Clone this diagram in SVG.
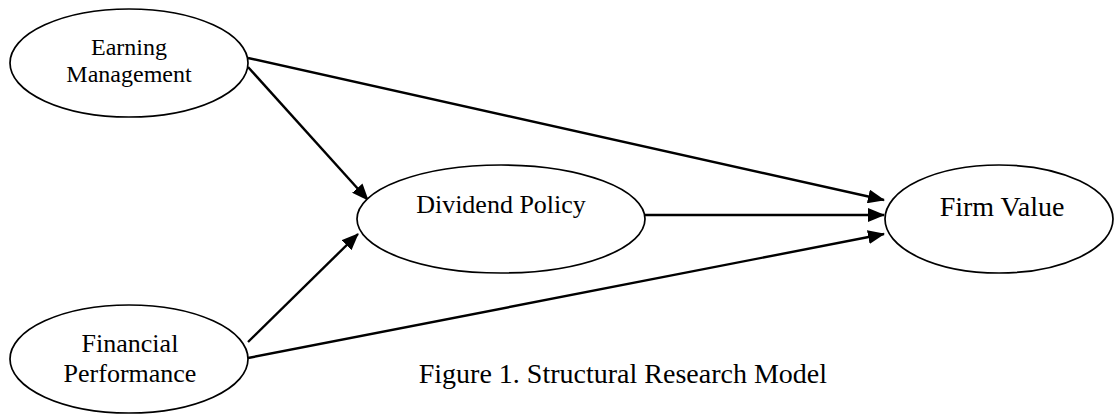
<svg xmlns="http://www.w3.org/2000/svg" width="1114" height="414" viewBox="0 0 1114 414">
<style>
.node ellipse{fill:#fff;stroke:#000;stroke-width:1.7}
text{font-family:"Liberation Serif","Times New Roman",serif;fill:#000;text-anchor:middle}
.edge{stroke:#000;stroke-width:2.4;fill:none;marker-end:url(#ah)}
</style>
<defs>
<marker id="ah" markerUnits="userSpaceOnUse" markerWidth="17" markerHeight="14" refX="16" refY="7" orient="auto">
<path d="M0,0 L17,7 L0,14 z" fill="#000"/>
</marker>
</defs>
<rect width="1114" height="414" fill="#fff"/>
<g id="connectors">
<path class="edge" d="M248,58 L884,200"/>
<path class="edge" d="M248,67 L368,200"/>
<path class="edge" d="M248,342 L358,234"/>
<path class="edge" d="M248,358 L884,234"/>
<path class="edge" d="M645,215 L884,215"/>
</g>
<g id="earning-management" class="node">
<ellipse cx="129" cy="63" rx="119" ry="54"/>
<text x="129" y="55" font-size="24">Earning</text>
<text x="129" y="82" font-size="24">Management</text>
</g>
<g id="financial-performance" class="node">
<ellipse cx="129" cy="359" rx="119" ry="54"/>
<text x="130" y="352" font-size="26">Financial</text>
<text x="130" y="382" font-size="26">Performance</text>
</g>
<g id="dividend-policy" class="node">
<ellipse cx="501" cy="219" rx="144" ry="54"/>
<text x="501" y="213" font-size="26">Dividend Policy</text>
</g>
<g id="firm-value" class="node">
<ellipse cx="999" cy="219" rx="114" ry="54"/>
<text x="1002" y="216" font-size="28">Firm Value</text>
</g>
<g id="caption">
<text x="827" y="383" font-size="28" style="text-anchor:end">Figure 1. Structural Research Model</text>
</g>
</svg>
